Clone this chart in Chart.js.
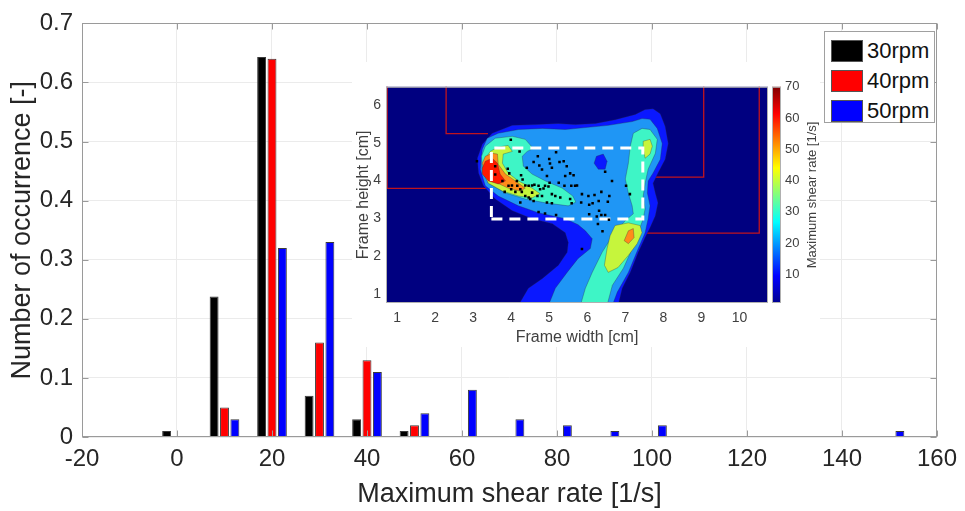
<!DOCTYPE html>
<html>
<head>
<meta charset="utf-8">
<script src="https://cdn.jsdelivr.net/npm/chart.js@4.4.1/dist/chart.umd.min.js"></script>
<style>
  html, body { margin: 0; padding: 0; background: #fff; }
  #wrap { position: relative; width: 965px; height: 511px; font-family: "Liberation Sans", Arial, sans-serif; }
  #main { position: absolute; left: 0; top: 0; }
  #inset { position: absolute; left: 352px; top: 62px; background: #fff; }
  #legend { position: absolute; left: 824px; top: 31px; width: 111px; height: 92px; box-sizing: border-box;
            border: 1px solid #a0a0a0; background: #fff; padding: 4px 0 0 6px; }
  .row { height: 30px; display: flex; align-items: center; }
  .sw { width: 32px; height: 22px; border: 1px solid #555; box-sizing: border-box; margin-right: 4px; }
  .lab { font-size: 22px; color: #111; }
</style>
</head>
<body>
<div id="wrap">
  <canvas id="main" width="965" height="511"></canvas>
  <canvas id="inset" width="468" height="285"></canvas>
  <div id="legend"></div>
</div>
<script>
// main histogram
const shearRates = [0, 10, 20, 30, 40, 50, 60, 70, 80, 90, 100, 110, 120, 130, 140, 150];
const rpm30 = [0.01, 0.238, 0.643, 0.07, 0.03, 0.01, 0, 0, 0, 0, 0, 0, 0, 0, 0, 0];
const rpm40 = [0, 0.05, 0.64, 0.16, 0.13, 0.02, 0, 0, 0, 0, 0, 0, 0, 0, 0, 0];
const rpm50 = [0, 0.03, 0.32, 0.33, 0.11, 0.04, 0.08, 0.03, 0.02, 0.01, 0.02, 0, 0, 0, 0, 0.01];
const seriesLabels = ["30rpm", "40rpm", "50rpm"];
const xTicks = [-20, 0, 20, 40, 60, 80, 100, 120, 140, 160];
const yTicks = [0, 0.1, 0.2, 0.3, 0.4, 0.5, 0.6, 0.7];

// inset: contour map of frame (cm)
const insetXTicks = [1, 2, 3, 4, 5, 6, 7, 8, 9, 10];
const insetYTicks = [1, 2, 3, 4, 5, 6];
const colorbarTicks = [10, 20, 30, 40, 50, 60, 70];

const contourBlue = [[4.19,0.7],[4.45,1.15],[4.82,1.41],[5.24,1.76],[5.47,2.10],[5.50,2.36],[5.42,2.62],[5.08,2.86],
  [4.55,2.99],[4.03,3.20],[3.58,3.51],[3.27,3.86],[3.14,4.20],[3.11,4.59],[3.24,4.96],[3.50,5.25],[4.03,5.46],
  [4.63,5.48],[5.24,5.51],[5.68,5.48],[6.21,5.51],[6.73,5.61],[7.26,5.75],[7.52,5.88],[7.73,5.90],[7.92,5.77],
  [8.05,5.43],[8.13,4.98],[8.05,4.56],[7.86,4.20],[7.73,3.93],[7.79,3.67],[7.86,3.41],[7.79,3.07],[7.65,2.75],
  [7.52,2.49],[7.34,2.10],[7.13,1.57],[6.92,1.15],[6.81,0.7]];
const contourLightBlue = [[4.98,0.7],[5.16,1.15],[5.47,1.57],[5.76,1.94],[6.08,2.20],[6.13,2.46],[5.95,2.67],
  [5.76,2.83],[5.42,2.99],[4.71,3.15],[4.19,3.33],[3.66,3.59],[3.32,3.86],[3.19,4.30],[3.24,4.83],[3.37,5.12],
  [3.66,5.25],[4.19,5.35],[4.82,5.38],[5.42,5.35],[6.55,5.46],[7.18,5.56],[7.44,5.64],[7.65,5.62],[7.84,5.38],
  [7.97,4.98],[7.92,4.56],[7.73,4.20],[7.60,3.99],[7.58,3.67],[7.65,3.33],[7.60,2.99],[7.52,2.62],[7.34,2.20],
  [7.08,1.57],[6.79,1.05],[6.66,0.7]];
const contourBlueHole = [[6.24,4.64],[6.42,4.70],[6.52,4.51],[6.47,4.30],[6.29,4.30],[6.18,4.46]];
const contourAquaHead = [[3.32,4.91],[3.58,5.12],[4.03,5.17],[4.37,5.09],[4.58,4.85],[4.42,4.77],[4.29,4.64],
  [4.32,4.38],[4.55,4.17],[4.90,3.99],[5.34,3.80],[5.62,3.59],[5.70,3.43],[5.50,3.33],[4.90,3.41],[4.37,3.51],
  [3.85,3.67],[3.40,3.93],[3.24,4.30],[3.22,4.64]];
const contourAquaRight = [[7.21,5.25],[7.44,5.38],[7.65,5.35],[7.84,5.09],[7.79,4.72],[7.60,4.30],[7.52,3.93],
  [7.47,3.59],[7.52,3.25],[7.47,2.99],[7.34,2.62],[7.18,2.20],[6.95,1.68],[6.66,1.23],[6.52,0.7],[5.82,0.7],
  [5.95,1.15],[6.13,1.57],[6.39,2.10],[6.66,2.54],[7.00,2.94],[7.21,3.12],[7.18,3.33],[7.08,3.67],[7.00,4.04],
  [7.08,4.46],[7.13,4.91]];
const contourYellowHead = [[3.32,4.59],[3.45,4.77],[3.64,4.88],[3.92,4.93],[4.03,4.77],[3.79,4.70],[3.77,4.46],
  [3.92,4.20],[4.19,3.99],[4.55,3.80],[4.76,3.65],[4.55,3.54],[4.19,3.59],[3.77,3.72],[3.40,3.93],[3.24,4.25]];
const contourYellowTop = [[7.47,5.04],[7.65,5.09],[7.71,4.91],[7.65,4.70],[7.52,4.59],[7.47,4.83]];
const contourYellowLow = [[6.73,2.81],[7.08,2.88],[7.39,2.81],[7.44,2.62],[7.31,2.33],[7.08,2.02],[6.81,1.70],
  [6.55,1.57],[6.45,1.76],[6.52,2.20],[6.60,2.54]];
const contourOrangeHead = [[3.24,4.46],[3.32,4.64],[3.50,4.72],[3.64,4.70],[3.66,4.43],[3.85,4.17],[4.11,3.99],
  [4.37,3.80],[4.24,3.72],[3.92,3.80],[3.64,3.93],[3.32,4.12]];
const contourOrangeLow = [[7.08,2.67],[7.21,2.73],[7.23,2.49],[7.08,2.33],[6.97,2.41]];
const contourRedHead = [[3.24,4.33],[3.32,4.51],[3.50,4.59],[3.64,4.46],[3.71,4.17],[3.85,3.99],[3.66,3.91],
  [3.40,3.99],[3.24,4.17]];

const particlePoints = [[3.99,5.08],[4.22,4.77],[4.70,4.64],[5.00,4.57],[5.18,4.75],[5.38,4.51],[5.27,4.49],
  [4.59,4.49],[4.41,4.34],[4.74,4.40],[4.81,4.29],[5.02,4.45],[5.07,4.34],[5.46,4.38],[5.55,4.19],[3.10,4.51],
  [3.91,4.31],[3.95,4.19],[4.26,4.14],[4.30,4.03],[4.15,3.99],[4.94,4.12],[5.01,3.94],[4.89,3.86],[5.25,3.94],
  [5.42,4.12],[5.64,4.14],[5.58,3.86],[5.40,3.86],[5.68,3.86],[3.93,3.86],[4.02,3.87],[4.16,3.86],[4.24,3.77],
  [4.37,3.87],[4.46,3.86],[4.55,3.87],[4.61,3.89],[4.72,3.86],[4.76,3.77],[4.85,3.79],[4.98,3.84],[5.07,3.64],
  [5.16,3.59],[5.29,3.55],[5.55,3.51],[5.59,3.40],[4.94,3.42],[5.07,3.40],[4.59,3.46],[4.50,3.51],[4.37,3.59],
  [4.28,3.70],[4.11,3.70],[4.00,3.77],[3.83,3.70],[3.58,4.16],[3.77,3.99],[3.58,4.38],[4.24,3.42],[4.72,3.17],
  [4.89,3.13],[5.18,3.09],[4.55,3.68],[4.46,3.55],[4.69,3.59],[4.81,3.59],[6.47,4.23],[6.65,3.99],[5.73,3.87],
  [5.86,3.64],[6.03,3.59],[6.19,3.62],[6.37,3.70],[6.58,3.59],[5.84,3.42],[6.05,3.36],[6.14,3.40],[6.30,3.46],
  [6.54,3.44],[6.05,3.11],[6.31,3.20],[6.37,3.09],[6.47,3.09],[6.25,3.05],[6.57,2.96],[6.28,2.85],[6.40,2.66],
  [5.86,2.19],[7.02,3.86],[7.12,3.64]];

const frameLineA = [[2.29,6.6],[2.29,5.24],[3.39,5.24]];
const frameLineB = [[0.74,6.6],[0.74,3.79],[3.37,3.79]];
const frameLineC = [[9.06,6.6],[9.06,4.09],[7.52,4.09]];
const frameLineD = [[10.52,6.6],[10.52,2.61],[7.52,2.61]];
const roiBox = [[3.48,2.98],[7.46,2.98],[7.46,4.86],[3.48,4.86],[3.48,2.98]];

const FONT = '"Liberation Sans", Arial, sans-serif';
Chart.defaults.font.family = FONT;

// ---------- main chart ----------
const barColors = ["#000000", "#ff0000", "#0000ff"];
const barSeries = [rpm30, rpm40, rpm50];

const boxPlugin = {
  id: "box",
  afterDraw(chart) {
    const {ctx, chartArea: a, scales} = chart;
    const L = Math.round(a.left) + 0.5, R = Math.round(a.right) - 0.5;
    const T = Math.round(a.top) + 0.5, B = Math.round(a.bottom) - 0.5;
    ctx.save();
    ctx.strokeStyle = "#9a9a9a";
    ctx.lineWidth = 1;
    ctx.strokeRect(L, T, R - L, B - T);
    ctx.beginPath();
    scales.x.ticks.forEach((t, i) => {
      const px = Math.round(scales.x.getPixelForTick(i)) + 0.5;
      ctx.moveTo(px, B); ctx.lineTo(px, B - 6);
      ctx.moveTo(px, T); ctx.lineTo(px, T + 6);
    });
    scales.y.ticks.forEach((t, i) => {
      const py = Math.round(scales.y.getPixelForTick(i)) + 0.5;
      ctx.moveTo(L, py); ctx.lineTo(L + 6, py);
      ctx.moveTo(R, py); ctx.lineTo(R - 6, py);
    });
    ctx.stroke();
    ctx.restore();
  }
};

new Chart(document.getElementById("main"), {
  type: "bar",
  data: {
    datasets: barSeries.map((vals, k) => ({
      label: seriesLabels[k],
      data: shearRates.map((x, i) => ({x: x, y: vals[i]})),
      backgroundColor: barColors[k],
      borderColor: "#3a3a3a",
      borderWidth: 1,
      categoryPercentage: 0.656,
      barPercentage: 0.857
    }))
  },
  options: {
    responsive: false,
    animation: false,
    layout: {padding: {top: 19, right: 19, left: 0, bottom: 0}},
    plugins: {legend: {display: false}, tooltip: {enabled: false}},
    scales: {
      x: {
        type: "linear", min: -20, max: 160, offset: false,
        afterBuildTicks: s => { s.ticks = xTicks.map(v => ({value: v})); },
        afterFit: s => { s.height = 74; },
        grid: {color: "#ebebeb", drawTicks: false, offset: false},
        border: {display: false},
        ticks: {font: {size: 24}, color: "#262626", padding: 8, maxRotation: 0, autoSkip: false},
        title: {display: true, text: "Maximum shear rate [1/s]", font: {size: 27}, color: "#262626",
                padding: {top: 0, bottom: 0}}
      },
      y: {
        min: 0, max: 0.7,
        afterBuildTicks: s => { s.ticks = yTicks.map(v => ({value: v})); },
        afterFit: s => { s.width = 82; },
        grid: {color: "#ebebeb", drawTicks: false},
        border: {display: false},
        ticks: {font: {size: 24}, color: "#262626", padding: 9},
        title: {display: true, text: "Number of occurrence [-]", font: {size: 27}, color: "#262626",
                padding: {top: 6, bottom: 0}}
      }
    }
  },
  plugins: [boxPlugin]
});

// legend
const legendEl = document.getElementById("legend");
seriesLabels.forEach((lab, k) => {
  const row = document.createElement("div");
  row.className = "row";
  row.innerHTML = '<div class="sw" style="background:' + barColors[k] + '"></div><span class="lab">' + lab + "</span>";
  legendEl.appendChild(row);
});

// ---------- inset chart ----------
const toXY = pts => pts.map(p => ({x: p[0], y: p[1]}));
const closed = pts => toXY(pts.concat([pts[0]]));

const contourLayers = [
  {pts: contourBlue, color: "#0a18ff", order: 20},
  {pts: contourLightBlue, color: "#1f96f5", order: 19},
  {pts: contourBlueHole, color: "#0a18ff", order: 18},
  {pts: contourAquaHead, color: "#3ef5c6", order: 17},
  {pts: contourAquaRight, color: "#3ef5c6", order: 17},
  {pts: contourYellowHead, color: "#c6f53c", order: 16},
  {pts: contourYellowTop, color: "#c6f53c", order: 16},
  {pts: contourYellowLow, color: "#c6f53c", order: 16},
  {pts: contourOrangeHead, color: "#ff8c1a", order: 15},
  {pts: contourOrangeLow, color: "#ff8c1a", order: 15},
  {pts: contourRedHead, color: "#ff1a00", order: 14}
];

const insetDatasets = [];
[frameLineA, frameLineB, frameLineC, frameLineD].forEach(line => {
  insetDatasets.push({data: toXY(line), borderColor: "#c0141e", borderWidth: 1.3, pointRadius: 0,
                      fill: false, tension: 0, order: 30});
});
contourLayers.forEach(l => {
  insetDatasets.push({data: closed(l.pts), backgroundColor: l.color, borderColor: "rgba(40,40,60,0.45)",
                      borderWidth: 0.7, pointRadius: 0, fill: "shape", tension: 0, order: l.order});
});
insetDatasets.push({data: toXY(roiBox), borderColor: "#ffffff", borderWidth: 3, borderDash: [11, 7],
                    pointRadius: 0, fill: false, tension: 0, order: 2});
insetDatasets.push({data: toXY(particlePoints), showLine: false, pointStyle: "rect", pointRadius: 1.8,
                    pointBackgroundColor: "#000", pointBorderWidth: 0, order: 1});

const jet = ["#00008f", "#0000ff", "#00ffff", "#ffff00", "#ff0000", "#800000"];
const jetStops = [0, 0.125, 0.375, 0.625, 0.875, 1];

const insetPlugin = {
  id: "insetDeco",
  beforeDatasetsDraw(chart) {
    const {ctx, chartArea: a} = chart;
    ctx.save();
    ctx.fillStyle = "#000080";
    ctx.fillRect(a.left, a.top, a.right - a.left, a.bottom - a.top);
    ctx.restore();
  },
  afterDraw(chart) {
    const {ctx, chartArea: a, scales} = chart;
    const cb = scales.cb;
    const top = cb.getPixelForValue(cb.max), bot = cb.getPixelForValue(cb.min);
    const x0 = a.right + 4, w = 9;
    ctx.save();
    const g = ctx.createLinearGradient(0, bot, 0, top);
    jet.forEach((c, i) => g.addColorStop(jetStops[i], c));
    ctx.fillStyle = g;
    ctx.fillRect(x0, top, w, bot - top);
    ctx.strokeStyle = "#b0b0b0";
    ctx.lineWidth = 1;
    ctx.strokeRect(x0 + 0.5, top + 0.5, w - 1, bot - top - 1);
    ctx.strokeRect(a.left + 0.5, a.top + 0.5, a.right - a.left - 1, a.bottom - a.top - 1);
    ctx.translate(a.right + 44, (top + bot) / 2);
    ctx.rotate(-Math.PI / 2);
    ctx.fillStyle = "#404040";
    ctx.font = "13px " + FONT;
    ctx.textAlign = "center";
    ctx.textBaseline = "middle";
    ctx.fillText("Maximum shear rate [1/s]", 0, 0);
    ctx.restore();
  }
};

new Chart(document.getElementById("inset"), {
  type: "line",
  data: {datasets: insetDatasets},
  options: {
    responsive: false,
    animation: false,
    layout: {padding: {top: 23, right: 0, left: 0, bottom: 0}},
    plugins: {legend: {display: false}, tooltip: {enabled: false}},
    scales: {
      x: {
        type: "linear", min: 0.71, max: 10.75,
        afterBuildTicks: s => { s.ticks = insetXTicks.map(v => ({value: v})); },
        afterFit: s => { s.height = 44; },
        grid: {display: false, drawTicks: false},
        border: {display: false},
        ticks: {font: {size: 14}, color: "#404040", padding: 7, maxRotation: 0, autoSkip: false},
        title: {display: true, text: "Frame width [cm]", font: {size: 16}, color: "#404040",
                padding: {top: 0, bottom: 0}}
      },
      y: {
        type: "linear", min: 0.76, max: 6.48,
        afterBuildTicks: s => { s.ticks = insetYTicks.map(v => ({value: v})); },
        afterFit: s => { s.width = 34; },
        grid: {display: false, drawTicks: false},
        border: {display: false},
        ticks: {font: {size: 14}, color: "#404040", padding: 5},
        title: {display: true, text: "Frame height [cm]", font: {size: 16}, color: "#404040",
                padding: {top: 2, bottom: 0}}
      },
      cb: {
        type: "linear", position: "right", min: 0.8, max: 70,
        afterBuildTicks: s => { s.ticks = colorbarTicks.map(v => ({value: v})); },
        afterFit: s => { s.width = 52; },
        grid: {display: false, drawTicks: false},
        border: {display: false},
        ticks: {font: {size: 13}, color: "#404040", padding: 17}
      }
    }
  },
  plugins: [insetPlugin]
});
</script>
</body>
</html>
